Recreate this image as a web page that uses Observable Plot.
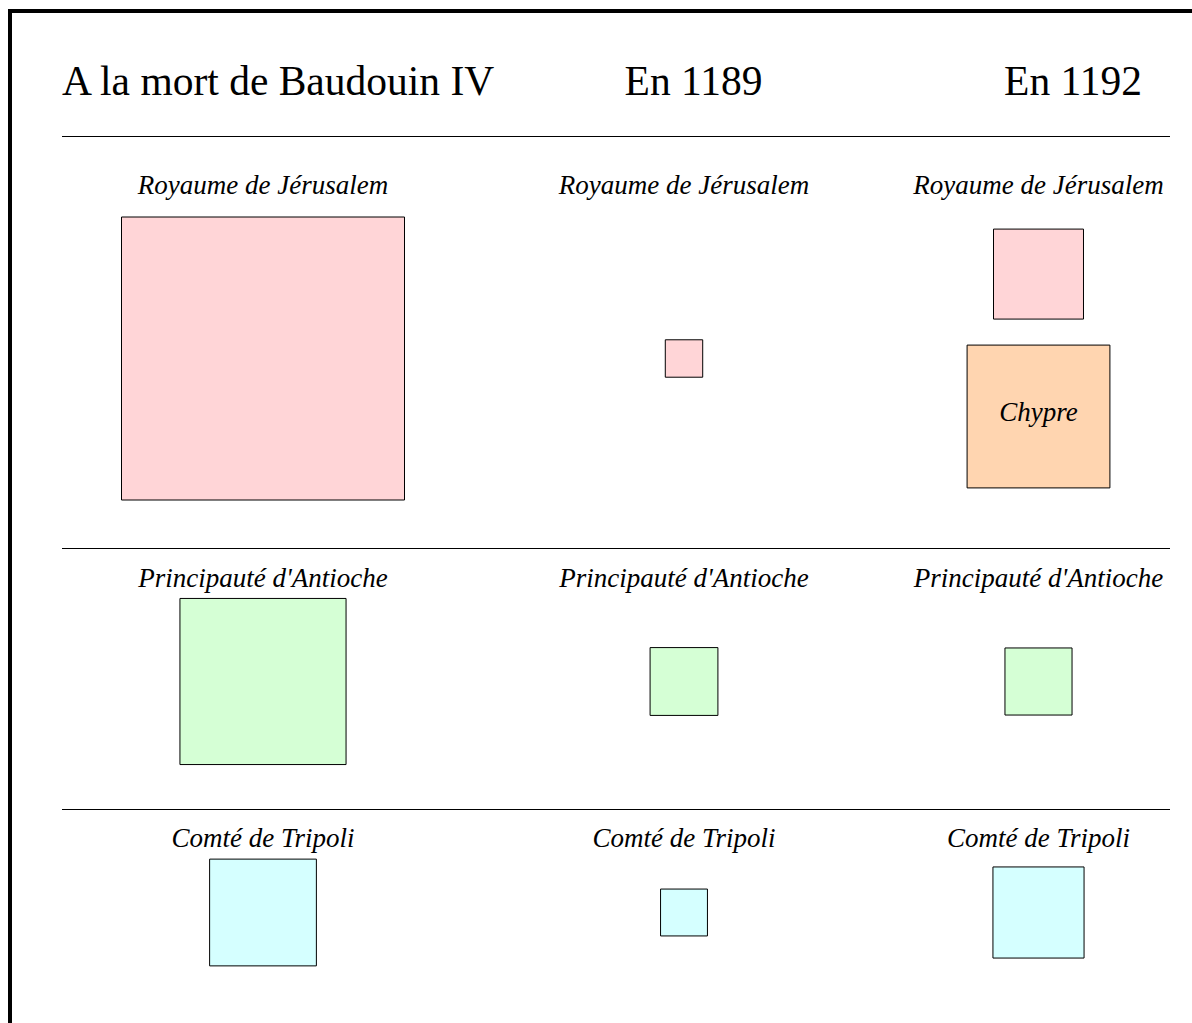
<!DOCTYPE html>
<html>
<head>
<meta charset="utf-8">
<script src="https://cdn.jsdelivr.net/npm/d3@7"></script>
<script src="https://cdn.jsdelivr.net/npm/@observablehq/plot@0.6"></script>
<style>
  html, body { margin: 0; padding: 0; overflow: hidden; background: #fff; width: 1192px; height: 1023px; }
  #page { position: relative; width: 1192px; height: 1023px; overflow: hidden;
          font-family: "Liberation Serif", "Times New Roman", serif; color: #000; }
  #frame { position: absolute; left: 8px; top: 9px; width: 2000px; height: 2000px;
           border-left: 4px solid #000; border-top: 4px solid #000; }
  #header { position: absolute; left: 62px; top: 61px; display: grid;
            grid-template-columns: 408px 447px 225px; font-size: 41.5px; line-height: 41px; white-space: nowrap; }
  #header div:nth-child(1) { text-align: left; }
  #header div:nth-child(2) { text-align: center; }
  #header div:nth-child(3) { text-align: right; }
  .rule { position: absolute; left: 62px; width: 1108px; height: 1px; background: #000; }
  .row { position: absolute; left: 0; }
  .row svg { display: block; }
</style>
</head>
<body>
<div id="page"><div id="frame"></div><div id="header"></div></div>
<script>
// ---- Data (relative areas) ----
const periods = ["A la mort de Baudouin IV", "En 1189", "En 1192"];
const states = ["Royaume de Jérusalem", "Principauté d'Antioche", "Comté de Tripoli"];
const jerusalem = [801, 14, 81];
const antioche = [276, 46, 45];
const tripoli = [114, 22, 83];
const chypre = [null, null, 204];
const chypreLabel = "Chypre";

// ---- Styles / layout ----
const stateColors = ["#ffd5d7", "#d5ffd5", "#d5ffff"];
const chypreColor = "#ffd5b0";
const values = [jerusalem, antioche, tripoli];
const colCenters = [262.5, 683.5, 1038];
const SIDE_MAX = 283;      // pixel side of the largest square
const STACK_GAP = 26;      // gap between stacked squares
const rowLayout = [
  {top: 136, height: 412, label: 57, center: 222},
  {top: 548, height: 261, label: 38, center: 133},
  {top: 809, height: 214, label: 37, center: 103}
];
const labelFont = {fontFamily: "Liberation Serif, Times New Roman, serif", fontStyle: "italic", fontSize: 27, fill: "#000"};

const maxValue = d3.max([...jerusalem, ...antioche, ...tripoli, ...chypre.filter(v => v != null)]);
const rScale = {type: "sqrt", domain: [0, maxValue], range: [0, SIDE_MAX / Math.sqrt(Math.PI)]};
const side = v => SIDE_MAX * Math.sqrt(v / maxValue);

const page = document.getElementById("page");
const header = document.getElementById("header");
periods.forEach(p => { const d = document.createElement("div"); d.textContent = p; header.appendChild(d); });

rowLayout.forEach((L, k) => {
  const mt = Math.max(0, 2 * L.center - L.height);
  const mb = Math.max(0, L.height - 2 * L.center);
  const data = periods.map((p, i) => ({i, period: p, state: states[k], value: values[k][i], extra: k === 0 ? chypre[i] : null}));
  const single = data.filter(d => d.extra == null);
  const stacked = data.filter(d => d.extra != null);
  const marks = [
    Plot.text(data, {x: "i", text: "state", frameAnchor: "top", lineAnchor: "bottom", dy: L.label - mt, ...labelFont}),
    Plot.dot(single, {x: "i", r: "value", symbol: "square", fill: stateColors[k], stroke: "#000", strokeWidth: 1})
  ];
  stacked.forEach(d => {
    const sA = side(d.value), sB = side(d.extra);
    const total = sA + STACK_GAP + sB;
    const dyA = -total / 2 + sA / 2;
    const dyB = total / 2 - sB / 2;
    marks.push(
      Plot.dot([d], {x: "i", r: "value", symbol: "square", fill: stateColors[k], stroke: "#000", strokeWidth: 1, dy: dyA}),
      Plot.dot([d], {x: "i", r: "extra", symbol: "square", fill: chypreColor, stroke: "#000", strokeWidth: 1, dy: dyB}),
      Plot.text([d], {x: "i", text: () => chypreLabel, lineAnchor: "middle", dy: dyB - 4, ...labelFont})
    );
  });
  const chart = Plot.plot({
    width: 1192, height: L.height,
    marginTop: mt, marginBottom: mb, marginLeft: 0, marginRight: 0,
    x: {type: "linear", domain: [0, 1, 2], range: colCenters, axis: null},
    r: rScale,
    style: {background: "transparent", overflow: "visible"},
    marks
  });
  const rule = document.createElement("div");
  rule.className = "rule"; rule.style.top = L.top + "px";
  page.appendChild(rule);
  const wrap = document.createElement("div");
  wrap.className = "row"; wrap.style.top = L.top + "px";
  wrap.appendChild(chart);
  page.appendChild(wrap);
});
</script>
</body>
</html>
